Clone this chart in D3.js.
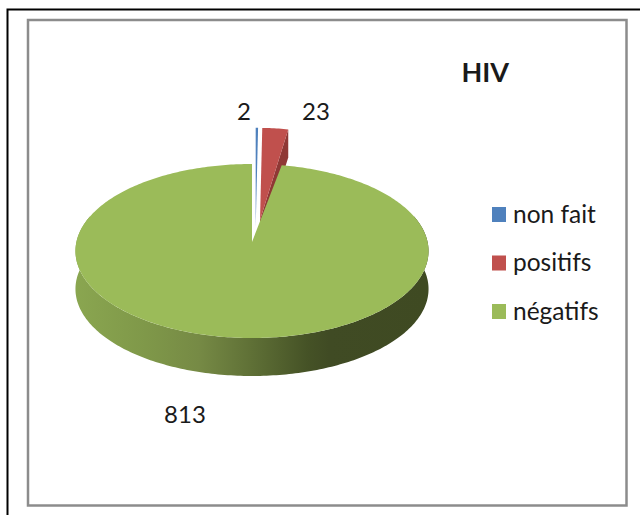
<html><head><meta charset="UTF-8"><title>HIV</title>
<style>
  body, html { margin: 0; padding: 0; background: #fff; overflow: hidden; }
  text { font-family: Lato, 'Open Sans', sans-serif; fill: #1a1a1a; }
</style>
</head>
<body>
<div id="chart"></div>
<script src="https://d3js.org/d3.v7.min.js"></script>
<script>
const categories = ["non fait", "positifs", "négatifs"];
const values = [2, 23, 813];
const colors = ["#4f81bd", "#c0504d", "#9bbb59"];
const wallColors = ["#2f4d71", "#8f3835", "#9bbb59"];

const width = 640, height = 515;
const svg = d3.select("#chart").append("svg")
  .attr("width", width).attr("height", height)
  .style("display", "block");

// frames
svg.append("path").attr("d", "M7.5 515V9.5H640").attr("fill", "none").attr("stroke", "#000").attr("stroke-width", 2);
svg.append("rect").attr("x", 28).attr("y", 20).attr("width", 598.5).attr("height", 485.5)
  .attr("fill", "#fff").attr("stroke", "#8c8c8c").attr("stroke-width", 2.5);

// fake 3d: each slice has its own apex, the picture pulls them apart
const explode = [
  { x: 255.7, y: 226, sx: 1, sy: 1.26 },
  { x: 260, y: 220, sx: 0.95, sy: 1.18 },
  { x: 252, y: 242, sx: 1, sy: 1 }
];
const depth = 38, redDepth = 28;

// circle in perspective, k makes the far side smaller than the near side
const k = 0.1034, a = 86.07, b = 175.6;
function project(angle, r, e) {
  const u = r * Math.sin(angle), v = r * Math.cos(angle);
  const w = 1 + k * v;
  return [e.x + e.sx * b * u / w, e.y - e.sy * a * v / w];
}

const pie = d3.pie().sort(null).value(d => d);
const arcs = pie(values);
const line = d3.line();

function rim(d, e, from, to) {
  const start = from === undefined ? d.startAngle : from;
  const end = to === undefined ? d.endAngle : to;
  const n = Math.max(2, Math.ceil((end - start) * 60));
  return d3.range(n + 1).map(i => project(start + (end - start) * i / n, 1, e));
}

const defs = svg.append("defs");
const grad = defs.append("linearGradient").attr("id", "wall")
  .attr("gradientUnits", "userSpaceOnUse")
  .attr("x1", 75).attr("x2", 428).attr("y1", 0).attr("y2", 0);
[[0, "#8aa650"], [0.2, "#7f9849"], [0.35, "#768a45"], [0.5, "#5f7036"], [0.66, "#455226"], [0.72, "#404b24"], [1, "#3f4a22"]]
  .forEach(s => grad.append("stop").attr("offset", s[0]).attr("stop-color", s[1]));

// red wall goes under the green disc
const redE = explode[1];
const redEnd = project(arcs[1].endAngle, 1, redE);
svg.append("path")
  .attr("d", line([redEnd, [redEnd[0], redEnd[1] + redDepth], [redE.x, redE.y + redDepth], [redE.x, redE.y]]) + "Z")
  .attr("fill", wallColors[1]);

// top faces of the two small slices
[0, 1].forEach(i => {
  svg.append("path")
    .attr("d", line([[explode[i].x, explode[i].y]].concat(rim(arcs[i], explode[i]))) + "Z")
    .attr("fill", colors[i]);
});

// green side wall, front half of the disc
const greenE = explode[2];
const front = rim(arcs[2], greenE, Math.PI * 0.4, Math.PI * 1.6);
const frontDown = front.map(p => [p[0], p[1] + depth]).reverse();
svg.append("path")
  .attr("d", line(front.concat(frontDown)) + "Z")
  .attr("fill", "url(#wall)");

// green top
svg.append("path")
  .attr("d", line([[greenE.x, greenE.y]].concat(rim(arcs[2], greenE))) + "Z")
  .attr("fill", colors[2]);

// value labels
const labelPos = [[244, 120], [316, 120], [185, 423]];
svg.selectAll("text.val").data(values).enter().append("text")
  .attr("class", "val")
  .attr("x", (d, i) => labelPos[i][0])
  .attr("y", (d, i) => labelPos[i][1])
  .attr("text-anchor", "middle")
  .attr("font-size", 24)
  .text(d => d);

svg.append("text").attr("x", 461.5).attr("y", 82)
  .attr("font-size", 27).attr("font-weight", "bold").text("HIV");

// legend
const legendY = d3.scalePoint().domain(categories).range([214.5, 311.5]);
const legend = svg.selectAll("g.leg").data(categories).enter().append("g")
  .attr("class", "leg")
  .attr("transform", d => `translate(492,${legendY(d)})`);
legend.append("rect").attr("x", 0).attr("y", -7.5).attr("width", 14).attr("height", 15)
  .attr("fill", (d, i) => colors[i]);
legend.append("text").attr("x", 21).attr("y", 8)
  .attr("font-size", 24.5).text(d => d);
</script>
</body></html>
